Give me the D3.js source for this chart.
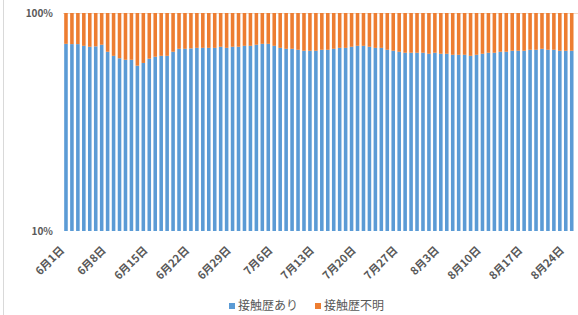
<!DOCTYPE html>
<html>
<head>
<meta charset="utf-8">
<script src="https://cdn.jsdelivr.net/npm/d3@7"></script>
<style>
  html, body { margin: 0; padding: 0; background: #ffffff; }
  svg { display: block; }
</style>
</head>
<body>
<div id="chart"></div>
<script>
// 日付(6月1日〜8月25日)
const months = [6, 7, 8];
const monthDays = [30, 31, 25];
const dates = [];
months.forEach((m, k) => {
    for (let d = 1; d <= monthDays[k]; d++) dates.push(`${m}月${d}日`);
});

// 接触歴ありの割合(%)
const knownShare = [
    72.2, 72.0, 72.0, 70.7, 70.0, 70.3, 71.5, 66.4, 63.6, 62.0,
    61.0, 61.0, 57.3, 59.0, 61.7, 63.0, 63.6, 63.6, 66.4, 68.5,
    68.5, 68.8, 69.2, 69.2, 69.2, 69.2, 70.0, 69.2, 70.0, 70.0,
    70.7, 70.7, 71.5, 72.2, 72.2, 70.7, 69.2, 68.5, 68.5, 67.8,
    67.1, 67.1, 67.1, 67.8, 67.8, 68.5, 69.2, 69.2, 70.0, 70.7,
    70.7, 70.0, 69.2, 69.2, 67.8, 67.1, 66.4, 65.7, 65.7, 65.7,
    65.7, 65.0, 65.7, 65.0, 65.0, 64.3, 64.3, 64.3, 63.6, 64.3,
    65.0, 65.7, 65.7, 66.4, 66.4, 67.1, 67.1, 67.1, 67.8, 67.8,
    68.5, 67.8, 67.8, 67.1, 67.1, 67.1
];
// 接触歴不明 = 残り
const unknownShare = knownShare.map(v => +(100 - v).toFixed(1));

const seriesNames = ["接触歴あり", "接触歴不明"];
const seriesColors = ["#5b9bd5", "#ed7d31"];
const yTicks = [10, 100];

const width = 578, height = 315;
const margin = { top: 13, right: 3, bottom: 84, left: 63 };
const plotBottom = height - margin.bottom;

const svg = d3.select("#chart").append("svg")
    .attr("width", width)
    .attr("height", height)
    .attr("viewBox", `0 0 ${width} ${height}`);

// 左の枠線
svg.append("line")
    .attr("x1", 3.5).attr("x2", 3.5)
    .attr("y1", 0).attr("y2", height)
    .attr("stroke", "#d9d9d9").attr("stroke-width", 1);

const x = d3.scaleBand()
    .domain(dates)
    .range([margin.left, margin.left + dates.length * 5.95])
    .paddingInner(0.4)
    .paddingOuter(0.2);

const y = d3.scaleLog()
    .domain([10, 100])
    .range([plotBottom, margin.top]);

// 100%の線
svg.append("line")
    .attr("x1", margin.left).attr("x2", width)
    .attr("y1", y(100) + 0.5).attr("y2", y(100) + 0.5)
    .attr("stroke", "#f3d9c6").attr("stroke-width", 1);

const rows = dates.map((d, i) => ({ date: d, known: knownShare[i], unknown: unknownShare[i] }));

// 接触歴あり (10% から)
svg.append("g").selectAll("rect")
    .data(rows)
    .join("rect")
    .attr("x", d => x(d.date))
    .attr("width", x.bandwidth())
    .attr("y", d => y(d.known))
    .attr("height", d => y(10) - y(d.known))
    .attr("fill", seriesColors[0]);

// 接触歴不明 (上に積む)
svg.append("g").selectAll("rect")
    .data(rows)
    .join("rect")
    .attr("x", d => x(d.date))
    .attr("width", x.bandwidth())
    .attr("y", d => y(d.known + d.unknown))
    .attr("height", d => y(d.known) - y(d.known + d.unknown))
    .attr("fill", seriesColors[1]);

// y軸ラベル
svg.append("g").selectAll("text")
    .data(yTicks)
    .join("text")
    .attr("x", margin.left - 10)
    .attr("y", d => y(d))
    .attr("dy", "0.35em")
    .attr("text-anchor", "end")
    .style("font-family", "Noto Sans CJK JP, sans-serif")
    .style("font-size", "10px")
    .style("font-weight", "bold")
    .style("fill", "#595959")
    .text(d => d + "%");

// x軸ラベル(7日ごと)
const tickDates = dates.filter((d, i) => i % 7 === 0);
svg.append("g").selectAll("text")
    .data(tickDates)
    .join("text")
    .attr("transform", d => `translate(${x(d) + x.bandwidth() / 2 - 1}, ${plotBottom + 20}) rotate(-45)`)
    .attr("text-anchor", "end")
    .style("font-family", "Noto Sans CJK JP, sans-serif")
    .style("font-size", "11px")
    .style("font-weight", "bold")
    .style("fill", "#595959")
    .text(d => d);

// 凡例
const legend = svg.append("g").attr("transform", "translate(229, 306)");
const legendX = [0, 86];
seriesNames.forEach((name, i) => {
    const g = legend.append("g").attr("transform", `translate(${legendX[i]}, 0)`);
    g.append("rect")
        .attr("x", 0).attr("y", -3)
        .attr("width", 6).attr("height", 6)
        .attr("fill", seriesColors[i]);
    g.append("text")
        .attr("x", 9).attr("y", 0)
        .attr("dy", "0.35em")
        .style("font-family", "Noto Sans CJK JP, sans-serif")
        .style("font-size", "12px")
        .style("fill", "#595959")
        .text(name);
});
</script>
</body>
</html>
